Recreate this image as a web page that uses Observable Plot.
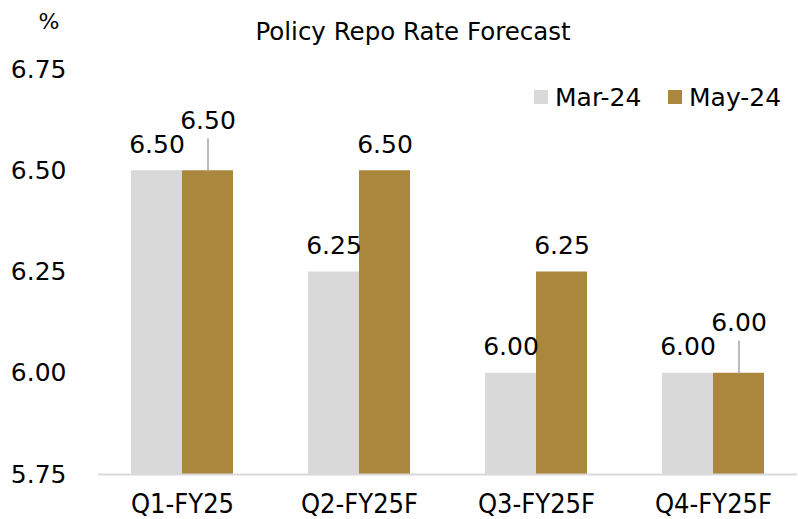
<!DOCTYPE html>
<html>
<head>
<meta charset="utf-8">
<script src="https://cdn.jsdelivr.net/npm/d3@7"></script>
<script src="https://cdn.jsdelivr.net/npm/@observablehq/plot@0.6"></script>
<style>
  html, body { margin: 0; padding: 0; background: #fff; }
  #chart { width: 798px; height: 519px; }
</style>
</head>
<body>
<div id="chart"></div>
<script>
const categories = ["Q1-FY25", "Q2-FY25F", "Q3-FY25F", "Q4-FY25F"];
const seriesNames = ["Mar-24", "May-24"];
const mar24 = [6.50, 6.25, 6.00, 6.00];
const may24 = [6.50, 6.50, 6.25, 6.00];
const yTicks = [5.75, 6.00, 6.25, 6.50, 6.75];
const seriesColors = ["#d9d9d9", "#ab863d"];
const titleText = "Policy Repo Rate Forecast";
const unitText = "%";

const W = 798, H = 519;
const marginLeft = 98, marginRight = 1, marginTop = 69, marginBottom = 45;
const pi = 0.426, po = 0.18;
const step = (W - marginLeft - marginRight) / (categories.length - pi + 2 * po);
const bw = step * (1 - pi);

const marData = categories.map((q, i) => ({q, s: seriesNames[0], v: mar24[i]}));
const mayData = categories.map((q, i) => ({q, s: seriesNames[1], v: may24[i], raised: may24[i] === mar24[i]}));
const fmt = d3.format(".2f");

const chart = Plot.plot({
  width: W, height: H,
  marginTop, marginBottom, marginLeft, marginRight,
  style: {fontFamily: "DejaVu Sans", fontSize: "25px", color: "#000", background: "#fff"},
  x: {domain: categories, paddingInner: pi, paddingOuter: po, label: null},
  y: {domain: [5.75, 6.75], label: null},
  marks: [
    Plot.barY(marData, {x: "q", y1: 5.75, y2: "v", fill: seriesColors[0], insetRight: bw / 2}),
    Plot.barY(mayData, {x: "q", y1: 5.75, y2: "v", fill: seriesColors[1], insetLeft: bw / 2}),
    Plot.ruleY([5.75], {stroke: "#d9d9d9", strokeWidth: 2}),
    Plot.axisY({ticks: yTicks, tickSize: 0, tickPadding: 32, tickFormat: fmt, fontSize: 25, label: null}),
    Plot.axisX({tickSize: 0, tickPadding: 19, fontSize: 27, fontFamily: "DejaVu Sans Condensed", label: null}),
    Plot.text(marData, {x: "q", y: "v", text: d => fmt(d.v), dx: -bw / 4, dy: -18, lineAnchor: "bottom", fontSize: 25}),
    Plot.text(mayData.filter(d => !d.raised), {x: "q", y: "v", text: d => fmt(d.v), dx: bw / 4, dy: -18, lineAnchor: "bottom", fontSize: 25}),
    Plot.text(mayData.filter(d => d.raised), {x: "q", y: "v", text: d => fmt(d.v), dx: bw / 4, dy: -42, lineAnchor: "bottom", fontSize: 25}),
    Plot.vector(mayData.filter(d => d.raised), {
      x: "q", y: "v", dx: bw / 4, length: 32, rotate: 0, anchor: "start",
      stroke: "#a6a6a6", strokeWidth: 1.5,
      shape: {draw(context, l) { context.moveTo(0, 0); context.lineTo(0, -l); }}
    })
  ]
});

const svg = d3.select(chart);
svg.append("text").attr("x", 413).attr("y", 40).attr("text-anchor", "middle")
  .attr("font-size", 24.5).attr("font-family", "DejaVu Sans").attr("fill", "#000").text(titleText);
svg.append("text").attr("x", 49).attr("y", 29).attr("text-anchor", "middle")
  .attr("font-size", 22).attr("font-family", "DejaVu Sans").attr("fill", "#000").text(unitText);
const legendX = [534, 668];
seriesNames.forEach((name, i) => {
  svg.append("rect").attr("x", legendX[i]).attr("y", 90).attr("width", 14).attr("height", 14).attr("fill", seriesColors[i]);
  svg.append("text").attr("x", legendX[i] + 21).attr("y", 106).attr("text-anchor", "start").attr("font-size", 25)
    .attr("font-family", "DejaVu Sans").attr("fill", "#000").text(name);
});

document.getElementById("chart").appendChild(chart);
</script>
</body>
</html>
